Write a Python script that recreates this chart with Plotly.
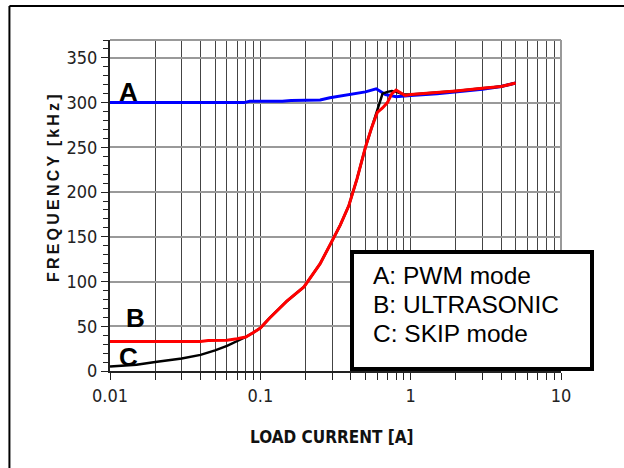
import plotly.graph_objects as go

# Series A: PWM mode (blue)
a_x = [0.01, 0.02, 0.04, 0.078, 0.085, 0.14, 0.16, 0.25, 0.29, 0.39, 0.5, 0.59, 0.68, 0.8, 0.92, 1.0, 1.5, 2, 3, 4, 5]
a_y = [300, 300, 300, 300, 301.5, 301.5, 302.5, 303, 305.5, 309, 312, 315.5, 309, 306.5, 307, 308, 310, 312, 315, 318, 322]

# Series B: ULTRASONIC (red)
b_x = [0.01, 0.02, 0.04, 0.045, 0.06, 0.07, 0.08, 0.09, 0.1, 0.115, 0.15, 0.195, 0.25, 0.294, 0.34,
       0.388, 0.44, 0.5, 0.55, 0.6, 0.65, 0.7, 0.75, 0.8, 0.86, 0.92, 1.0, 1.5, 2, 3, 4, 5]
b_y = [33, 33, 33, 34, 34.5, 36, 38, 43, 48, 59, 78, 94, 120, 142.5, 163,
       185, 215, 250, 272, 289, 294, 300, 310, 314, 311, 308, 309, 311, 313, 316, 318, 322]

# Series C: SKIP mode (black)
c_x = [0.01, 0.015, 0.02, 0.03, 0.04, 0.05, 0.06, 0.07, 0.08, 0.09, 0.1, 0.115, 0.15, 0.195, 0.25, 0.294,
       0.34, 0.388, 0.44, 0.5, 0.55, 0.6, 0.65, 0.7, 0.75, 0.8, 0.9, 1.0, 1.5, 2, 3, 4, 5]
c_y = [5, 7, 10, 14, 18, 23, 28, 33, 38, 43, 48, 59, 78, 94, 120, 142.5,
       163, 185, 215, 250, 272, 293, 310, 312, 313, 312, 309, 309, 311, 313, 316, 318, 322]

x_tickvals = [0.01, 0.1, 1, 10]
x_ticktext = ["0.01", "0.1", "1", "10"]
y_tickvals = [0, 50, 100, 150, 200, 250, 300, 350]

minor_x = [m * d for d in [0.01, 0.1, 1] for m in range(2, 10)]

fig = go.Figure()
fig.add_trace(go.Scatter(x=a_x, y=a_y, mode="lines", line=dict(color="#0000ff", width=3)))
fig.add_trace(go.Scatter(x=c_x, y=c_y, mode="lines", line=dict(color="#000000", width=2.5)))
fig.add_trace(go.Scatter(x=b_x, y=b_y, mode="lines", line=dict(color="#ff0000", width=3)))

NARROW = "Liberation Sans Narrow, DejaVu Sans Condensed, Arial Narrow, sans-serif"
tickfont = dict(family=NARROW, size=18, color="#222")

fig.update_layout(
    width=624, height=468,
    margin=dict(l=110, r=63, t=40, b=97),
    paper_bgcolor="white", plot_bgcolor="white",
    showlegend=False,
    xaxis=dict(
        type="log", range=[-2, 1],
        tickmode="array", tickvals=x_tickvals, ticktext=x_ticktext,
        ticks="outside", ticklen=7, tickcolor="#222", tickwidth=1,
        showgrid=True, gridcolor="#444", gridwidth=1,
        minor=dict(tickmode="array", tickvals=minor_x, showgrid=True, gridcolor="#444",
                   gridwidth=1, ticks="outside", ticklen=7, tickcolor="#222"),
        showline=True, linecolor="#222", linewidth=2,
        tickfont=tickfont, zeroline=False,
    ),
    yaxis=dict(
        range=[0, 370],
        tickmode="array", tickvals=y_tickvals,
        ticks="outside", ticklen=7, tickcolor="#222", tickwidth=1,
        showgrid=True, gridcolor="#999", gridwidth=1.5,
        minor=dict(dtick=10, tick0=0, ticks="outside", ticklen=5, tickcolor="#222", showgrid=False),
        showline=True, linecolor="#222", linewidth=2,
        tickfont=tickfont, zeroline=False,
    ),
)

# frame lines (page border and plot frame)
fig.add_shape(type="line", xref="paper", yref="paper", x0=1, x1=1, y0=0, y1=1,
              line=dict(color="#999", width=2), layer="above")
fig.add_shape(type="line", xref="paper", yref="paper", x0=0, x1=1, y0=1, y1=1,
              line=dict(color="#999", width=2), layer="above")
fig.add_shape(type="line", xref="paper", yref="paper", x0=-0.223, x1=1.14, y0=1.103, y1=1.103,
              line=dict(color="black", width=2))
fig.add_shape(type="line", xref="paper", yref="paper", x0=-0.223, x1=-0.223, y0=1.103, y1=-0.3,
              line=dict(color="black", width=2))

# legend box
def px2x(px):
    return (px - 110) / 451.0

def py2y(py):
    return (371 - py) / 331.0

fig.add_shape(type="rect", xref="paper", yref="paper",
              x0=px2x(352), x1=px2x(592), y0=py2y(369), y1=py2y(252),
              line=dict(color="black", width=4), fillcolor="white", layer="above")
legend_lines = ["A: PWM mode", "B: ULTRASONIC", "C: SKIP mode"]
legend_py = [275, 304, 333]
for txt, py in zip(legend_lines, legend_py):
    fig.add_annotation(text=txt, xref="paper", yref="paper", x=px2x(371), y=py2y(py),
                       xanchor="left", yanchor="middle", showarrow=False,
                       font=dict(family="Arial, Liberation Sans, sans-serif", size=24.5, color="black"))

# curve labels
for txt, px, py in [("A", 128, 92), ("B", 135, 318), ("C", 128, 357)]:
    fig.add_annotation(text="<b>%s</b>" % txt, xref="paper", yref="paper", x=px2x(px), y=py2y(py),
                       xanchor="center", yanchor="middle", showarrow=False,
                       font=dict(family="Arial, Liberation Sans, sans-serif", size=26, color="black"))

# axis titles
ts = "\u2009"
ytitle = ts.join("FREQUENCY") + ts * 3 + ts.join("[kHz]")
fig.add_annotation(text="<b>%s</b>" % ytitle, xref="paper", yref="paper",
                   x=px2x(53), y=py2y(188), textangle=-90, showarrow=False,
                   xanchor="center", yanchor="middle",
                   font=dict(family="Arial, Liberation Sans, sans-serif", size=16, color="#111"))
fig.add_annotation(text="<b>LOAD CURRENT [A]</b>", xref="paper", yref="paper",
                   x=px2x(332), y=py2y(437), showarrow=False,
                   xanchor="center", yanchor="middle",
                   font=dict(family=NARROW, size=17, color="#111"))

fig.write_html("out.html", config={"displayModeBar": False},
               post_script="document.body.style.margin='0';")
